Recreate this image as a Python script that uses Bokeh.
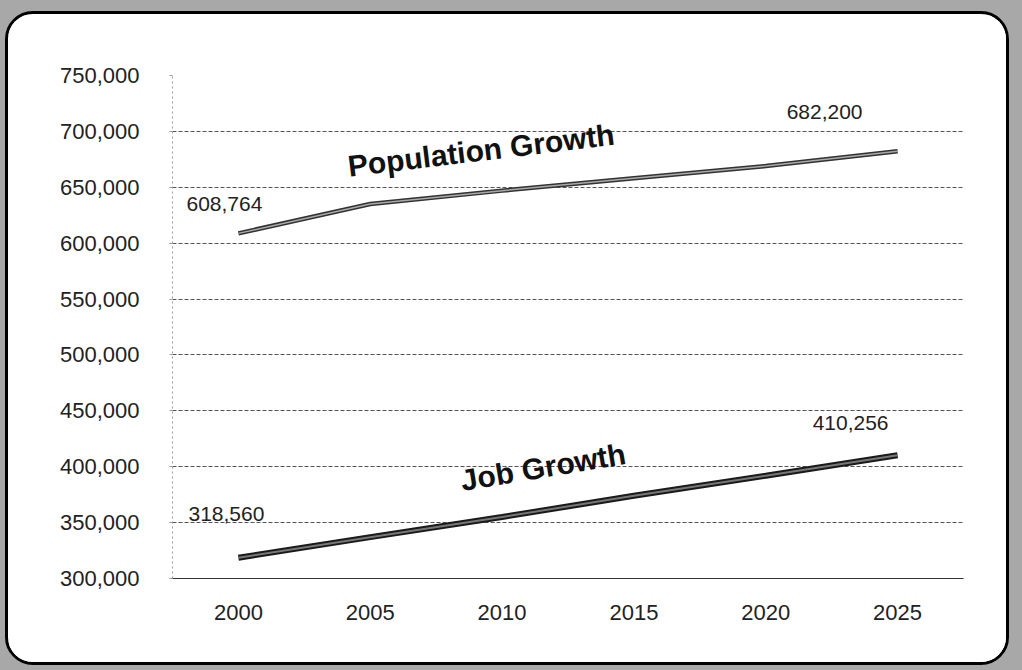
from bokeh.plotting import figure
from bokeh.layouts import column
from bokeh.models import FactorRange, Range1d, NumeralTickFormatter, SingleIntervalTicker, ColumnDataSource
from bokeh.core.properties import value
from bokeh.embed import file_html
from bokeh.resources import INLINE

years = ["2000", "2005", "2010", "2015", "2020", "2025"]
population = [608764, 635000, 647000, 658000, 669000, 682200]
jobs = [318560, 337000, 355000, 374000, 392000, 410256]
pop_labels = ["608,764", "682,200"]
job_labels = ["318,560", "410,256"]
series_names = ["Population Growth", "Job Growth"]

FONT = "Liberation Sans"

p = figure(width=1004, height=654, x_range=FactorRange(*years, range_padding=0),
           y_range=Range1d(300000, 750000), output_backend="svg", toolbar_location=None,
           min_border_left=164, min_border_right=49, min_border_top=61, min_border_bottom=90)
p.outline_line_color = None
p.border_fill_color = "white"
p.background_fill_color = "white"
p.margin = (11, 13, 5, 5)
p.styles = {"border": "3px solid black", "border-radius": "28px", "overflow": "hidden",
            "box-sizing": "border-box", "background-color": "white"}

p.yaxis.ticker = SingleIntervalTicker(interval=50000)
p.yaxis.formatter = NumeralTickFormatter(format="0,0")
p.yaxis.major_label_text_font = FONT
p.yaxis.major_label_text_font_size = "22px"
p.yaxis.major_label_text_color = "#222"
p.yaxis.axis_line_color = "#999"
p.yaxis.axis_line_dash = "2 3"
p.yaxis.major_tick_line_color = "#999"
p.yaxis.major_tick_out = 3
p.yaxis.major_tick_in = 0
p.yaxis.minor_tick_line_color = None
p.yaxis.major_label_standoff = 29

p.xaxis.major_label_text_font = FONT
p.xaxis.major_label_text_font_size = "22px"
p.xaxis.major_label_text_color = "#222"
p.xaxis.axis_line_color = "#333"
p.xaxis.major_tick_line_color = None
p.xaxis.major_label_standoff = 20

p.xgrid.grid_line_color = None
p.ygrid.grid_line_color = "#555"
p.ygrid.grid_line_dash = "4 2"
p.ygrid.grid_line_width = 1

p.line(years, population, line_color="#333", line_width=4.5)
p.line(years, population, line_color="#aaa", line_width=1.5)
p.line(years, jobs, line_color="#1a1a1a", line_width=6)
p.line(years, jobs, line_color="#777", line_width=2)

# value labels at end points
vsrc = ColumnDataSource(dict(
    x=[years[0], years[-1], years[0], years[-1]],
    y=[population[0], population[-1], jobs[0], jobs[-1]],
    t=[pop_labels[0], pop_labels[1], job_labels[0], job_labels[1]],
    xo=[-14, -73, -12, -47],
    yo=[-29, -39, -44, -32],
))
p.text(x="x", y="y", text="t", source=vsrc, x_offset="xo", y_offset="yo",
       text_align="center", text_baseline="middle", text_font=value(FONT),
       text_font_size="21px", text_color="#222")

# series names
nsrc = ColumnDataSource(dict(
    x=["2010", "2010"], y=[650000, 355000], t=series_names,
    xo=[-21, 41], yo=[-37, -50], a=[0.12, 0.165],
))
p.text(x="x", y="y", text="t", source=nsrc, x_offset="xo", y_offset="yo", angle="a",
       text_align="center", text_baseline="middle", text_font=value(FONT),
       text_font_style="bold", text_font_size="30px", text_color="#111")

root = column(p, styles={"background-color": "#a8a8a8"})
open("out.html", "w").write(file_html(root, INLINE))
